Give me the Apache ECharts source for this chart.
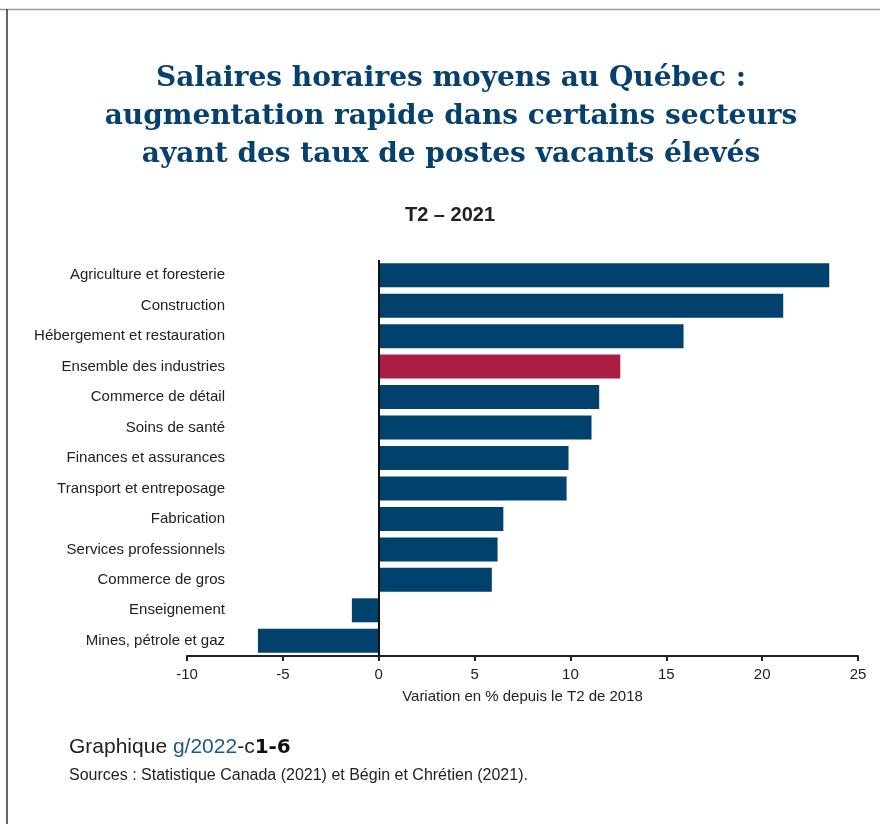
<!DOCTYPE html>
<html>
<head>
<meta charset="utf-8">
<script src="https://cdn.jsdelivr.net/npm/echarts@6/dist/echarts.min.js"></script>
<style>
  html, body { margin: 0; padding: 0; background: #fff; }
  #chart { width: 880px; height: 824px; }
</style>
</head>
<body>
<div id="chart"></div>
<script>
// secteurs, de haut en bas
const categories = [
  'Agriculture et foresterie',
  'Construction',
  'Hébergement et restauration',
  'Ensemble des industries',
  'Commerce de détail',
  'Soins de santé',
  'Finances et assurances',
  'Transport et entreposage',
  'Fabrication',
  'Services professionnels',
  'Commerce de gros',
  'Enseignement',
  'Mines, pétrole et gaz'
];
// variation en % depuis le T2 de 2018
const values = [23.5, 21.1, 15.9, 12.6, 11.5, 11.1, 9.9, 9.8, 6.5, 6.2, 5.9, -1.4, -6.3];
const highlight = 'Ensemble des industries';
const xTicks = [-10, 25, 5]; // min, max, interval

const BLUE = '#00416d';
const RED = '#a91e42';
const SANS = '"Liberation Sans", Arial, sans-serif';

const chart = echarts.init(document.getElementById('chart'));

chart.setOption({
  backgroundColor: '#fff',
  animation: false,
  textStyle: { fontFamily: SANS },
  graphic: [
    // cadre
    { type: 'line', shape: { x1: 0, y1: 9.5, x2: 880, y2: 9.5 }, style: { stroke: '#9a9a9a', lineWidth: 1.5 } },
    { type: 'line', shape: { x1: 7, y1: 9, x2: 7, y2: 824 }, style: { stroke: '#333', lineWidth: 1.5 } },
    {
      type: 'text', x: 451, y: 60,
      style: {
        text: 'Salaires horaires moyens au Québec :\naugmentation rapide dans certains secteurs\nayant des taux de postes vacants élevés',
        font: 'bold 28px "DejaVu Serif", serif',
        fill: '#06416d',
        align: 'center',
        verticalAlign: 'top',
        lineHeight: 38
      }
    },
    {
      type: 'text', x: 450, y: 215,
      style: {
        text: 'T2 – 2021', font: 'bold 20px ' + SANS, fill: '#222',
        align: 'center', verticalAlign: 'middle'
      }
    },
    {
      type: 'text', left: 69, top: 737,
      style: {
        text: '{a|Graphique }{b|g/2022}{a|-c}{c|1-6}',
        rich: {
          a: { font: '21px ' + SANS, fill: '#222' },
          b: { font: '21px ' + SANS, fill: '#1b5887' },
          c: { font: 'bold 20px "DejaVu Sans", sans-serif', fill: '#111' }
        }
      }
    },
    {
      type: 'text', left: 69, top: 768,
      style: {
        text: 'Sources : Statistique Canada (2021) et Bégin et Chrétien (2021).',
        font: '16px ' + SANS, fill: '#222'
      }
    }
  ],
  grid: { left: 187, right: 22, top: 260, bottom: 168, containLabel: false },
  xAxis: {
    type: 'value',
    min: xTicks[0], max: xTicks[1], interval: xTicks[2],
    name: 'Variation en % depuis le T2 de 2018',
    nameLocation: 'middle',
    nameGap: 33,
    nameTextStyle: { color: '#222', fontSize: 15 },
    axisLine: { show: true, onZero: false, lineStyle: { color: '#222', width: 2 } },
    axisTick: { show: true, inside: false, length: 5, lineStyle: { color: '#222', width: 2 } },
    axisLabel: { color: '#222', fontSize: 15, margin: 11 },
    splitLine: { show: false }
  },
  yAxis: {
    type: 'category',
    data: categories,
    inverse: true,
    axisLine: { show: false },
    axisTick: { show: false },
    axisLabel: { color: '#222', fontSize: 15, margin: -38 }
  },
  series: [{
    type: 'bar',
    barWidth: 24,
    data: values.map((v, i) => ({
      value: v,
      itemStyle: { color: categories[i] === highlight ? RED : BLUE }
    })),
    markLine: {
      silent: true,
      symbol: 'none',
      label: { show: false },
      lineStyle: { color: '#111', width: 2, type: 'solid' },
      data: [{ xAxis: 0 }]
    }
  }]
});
</script>
</body>
</html>
